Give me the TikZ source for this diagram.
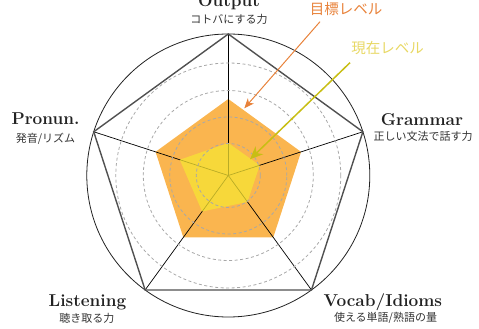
\documentclass[tikz,border=0pt]{standalone}
\usepackage{fontspec}
\newfontfamily\jp{Noto Sans CJK JP}
\usetikzlibrary{arrows.meta}
\definecolor{orfill}{HTML}{FAB54F}
\definecolor{yefill}{HTML}{F7E533}
\definecolor{orline}{HTML}{E8823A}
\definecolor{yeline}{HTML}{C8BE14}
\definecolor{yetext}{HTML}{E8D864}
\definecolor{dashc}{HTML}{A8A8A8}
\definecolor{pentc}{HTML}{505050}
\definecolor{titlec}{HTML}{222222}
\definecolor{subc}{HTML}{333333}
\begin{document}
\begin{tikzpicture}[x=1pt,y=1pt,
  title/.style={font=\fontsize{17.2}{19}\selectfont\bfseries, text=titlec, inner sep=0pt, anchor=base},
  sub/.style={font=\jp\fontsize{11}{12}\selectfont, text=subc, inner sep=0pt},
  spoke/.style={draw=black, line width=0.7pt},
  ring/.style={draw=dashc, line width=0.8pt, dash pattern=on 3pt off 2.5pt},
  legendtxt/.style={font=\jp\fontsize{14.5}{16}\selectfont, inner sep=0pt}]
\useasboundingbox (-228.3,-153.5) rectangle (250.7,175.5);
\coordinate (c) at (0,0);
\coordinate (vout) at (90:141.5);
\coordinate (vgr) at (18:141.5);
\coordinate (vvo) at (-54:141.5);
\coordinate (vli) at (-126:141.5);
\coordinate (vpr) at (162:141.5);
% target level
\fill[orfill] (90:76.5) -- (18:76.5) -- (-54:76.5) -- (-126:76.5) -- (162:76.5) -- cycle;
% spokes
\draw[spoke] (c) -- (vout);
\draw[spoke] (c) -- (vgr);
\draw[spoke] (c) -- (vvo);
\draw[spoke] (c) -- (vli);
\draw[spoke] (c) -- (vpr);
% current level
\fill[yefill, opacity=.75] (90:32.5) -- (18:33) -- (-54:32.6) -- (-126:44.5) -- (162:51) -- cycle;
% dashed rings
\foreach \r in {32,58.5,85,112.5} \draw[ring] (c) circle[radius=\r];
% outer circle and pentagon
\draw[draw=titlec, line width=0.8pt] (c) circle[radius=141.5];
\draw[draw=pentc, line width=1.4pt, line join=miter] (vout) -- (vgr) -- (vvo) -- (vli) -- (vpr) -- cycle;
% legend arrows
\coordinate (oa) at (91.7,153.8);
\coordinate (ot) at (16,67.2);
\coordinate (ya) at (121.7,112.8);
\coordinate (yt) at (21.7,16.2);
\draw[orline, line width=1pt, -{Stealth[length=10pt,width=8pt,inset=3pt]}] (oa) -- (ot);
\draw[yeline, line width=1.5pt, -{Stealth[length=13pt,width=11pt,inset=4pt]}] (ya) -- (yt);
\node[legendtxt, text=orline] (lo) at (117.7,166.5) {目標レベル};
\node[legendtxt, text=yetext] (ly) at (159.2,127.5) {現在レベル};
% axis labels
\node[title] (tout) at (0.7,168.5) {Output};
\node[sub] (sout) at (0.7,156) {コトバにする力};
\node[title] (tgr) at (193.7,49.8) {Grammar};
\node[sub] (sgr) at (194.9,38.8) {正しい文法で話す力};
\node[title] (tpr) at (-182.8,50.5) {Pronun.};
\node[sub] (spr) at (-182.8,36.2) {発音/リズム};
\node[title] (tli) at (-140.8,-131.2) {Listening};
\node[sub] (sli) at (-141.3,-142.8) {聴き取る力};
\node[title] (tvo) at (154.6,-131.2) {Vocab/Idioms};
\node[sub] (svo) at (157.2,-142.8) {使える単語/熟語の量};
\end{tikzpicture}
\end{document}
